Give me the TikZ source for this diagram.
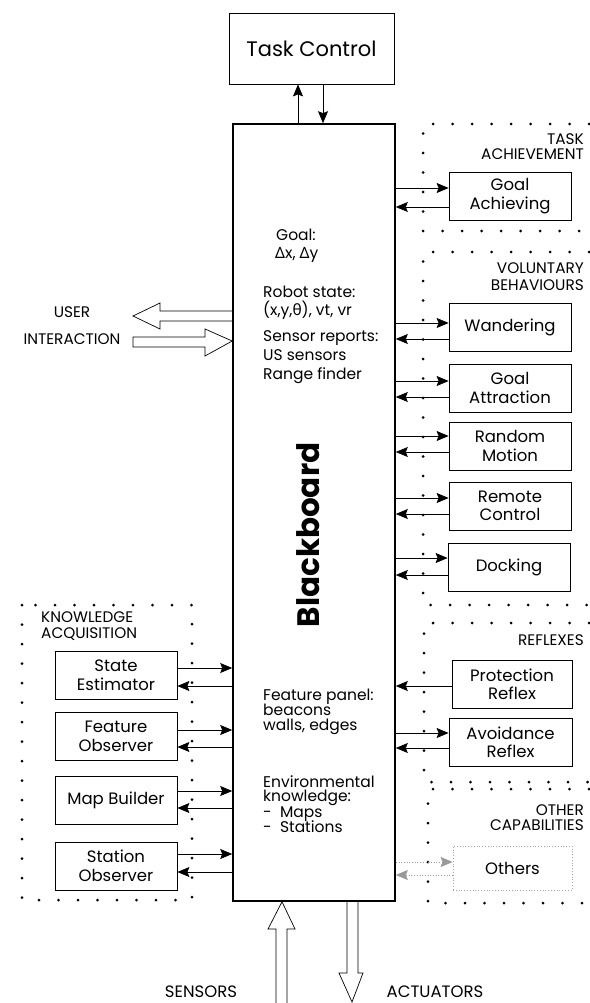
\documentclass[tikz,border=0pt]{standalone}
\usepackage{fontspec}
\setmainfont{Poppins}
\newfontfamily\greekfont{Noto Sans}
\usetikzlibrary{arrows.meta}

% font sizes (1 unit = 1pt)
\newcommand\tcfont{\fontsize{21}{24}\selectfont}
\newcommand\lblfont{\fontsize{16.5}{18.5}\selectfont}
\newcommand\capsfont{\fontsize{15.3}{17}\selectfont}
\newcommand\iofont{\fontsize{16.5}{18}\selectfont}
\newcommand\bbtxtfont{\fontsize{15.5}{17}\selectfont}
\newcommand\bbtitlefont{\fontsize{31}{34}\selectfont\bfseries}

\begin{document}
\begin{tikzpicture}[x=1pt,y=-1pt,
  box/.style={draw, line width=0.8pt, inner sep=0pt, align=center, font=\lblfont,
    minimum width=122pt, minimum height=48pt},
  arr/.style={line width=0.7pt, -{Stealth[length=12pt,width=10pt,inset=2pt]}},
  faintarr/.style={arr, draw=black!40, dotted},
  dots/.style={line width=3pt, line cap=round, dash pattern=on 0pt off 19.5pt},
  caps/.style={font=\capsfont, inner sep=0pt},
  bbtxt/.style={font=\bbtxtfont, inner sep=0pt, anchor=base west},
  hollow/.style={line width=0.7pt, line join=miter}
]
\useasboundingbox (0,0) rectangle (589,1003);

% central blackboard and task control
\node[draw, line width=1.6pt, minimum width=162pt, minimum height=777pt, inner sep=0pt] (bb) at (314,512.5) {};
\node[rotate=90, font=\bbtitlefont, inner sep=0pt] (bbtitle) at (308,535) {Blackboard};
\node[draw, line width=0.8pt, minimum width=165pt, minimum height=71pt, inner sep=0pt, font=\tcfont] (tc) at (311.5,48.5) {Task Control};
\draw[arr] (bb.north -| 298,0) -- (tc.south -| 298,0);
\draw[arr] (tc.south -| 323,0) -- (bb.north -| 323,0);

% contents of the blackboard
\node[bbtxt] (t1) at (276,240) {Goal:};
\node[bbtxt] (t2) at (275,258) {{\greekfont Δ}x,\ {\greekfont Δ}y};
\node[bbtxt] (t3) at (263,297) {Robot state:};
\node[bbtxt] (t4) at (263,315) {(x,y,{\greekfont θ}),\ vt,\ vr};
\node[bbtxt] (t5) at (263,341) {Sensor reports:};
\node[bbtxt] (t6) at (263,360) {US sensors};
\node[bbtxt] (t7) at (263,379) {Range finder};
\node[bbtxt] (t8) at (263,700) {Feature panel:};
\node[bbtxt] (t9) at (263,715) {beacons};
\node[bbtxt] (t10) at (263,730) {walls, edges};
\node[bbtxt] (t11) at (263,787) {Environmental};
\node[bbtxt] (t12) at (263,801) {knowledge:};
\node[bbtxt] (t13) at (263,817) {-\ \ Maps};
\node[bbtxt] (t14) at (263,832) {-\ \ Stations};

% right-hand groups
\draw[dots] (589,124) -- (423,124) -- (423,231) -- (589,231);
\draw[dots] (589,252) -- (423,252) -- (423,605) -- (589,605);
\draw[dots] (589,623) -- (424,623) -- (424,782) -- (589,782);
\draw[dots] (589,789) -- (428,789) -- (428,903) -- (589,903);

\node[caps, anchor=base east] (lta1) at (584,145) {TASK};
\node[caps, anchor=base east] (lta2) at (584,160) {ACHIEVEMENT};
\node[caps, anchor=base east] (lvb1) at (584,273) {VOLUNTARY};
\node[caps, anchor=base east] (lvb2) at (584,290) {BEHAVIOURS};
\node[caps, anchor=base east] (lrf) at (584,645) {REFLEXES};
\node[caps, anchor=base east] (loc1) at (584,815) {OTHER};
\node[caps, anchor=base east] (loc2) at (584,830) {CAPABILITIES};

\node[box] (ga) at (510,196) {Goal\\Achieving};
\node[box] (wa) at (510,327.5) {Wandering};
\node[box] (gat) at (510,388) {Goal\\Attraction};
\node[box] (rm) at (510,446) {Random\\Motion};
\node[box] (rc) at (510,506) {Remote\\Control};
\node[box] (dk) at (509,567.5) {Docking};
\node[box, minimum width=120pt] (pr) at (512,684.5) {Protection\\Reflex};
\node[box, minimum width=123pt] (ar) at (510.5,742.5) {Avoidance\\Reflex};
\node[box, draw=black!35, dotted, minimum width=119pt, minimum height=44pt] (ot) at (512.5,868) {Others};

\draw[arr] (bb.east |- 0,188) -- (ga.west |- 0,188);
\draw[arr] (ga.west |- 0,207) -- (bb.east |- 0,207);
\draw[arr] (bb.east |- 0,323) -- (wa.west |- 0,323);
\draw[arr] (wa.west |- 0,339) -- (bb.east |- 0,339);
\draw[arr] (bb.east |- 0,381) -- (gat.west |- 0,381);
\draw[arr] (gat.west |- 0,397) -- (bb.east |- 0,397);
\draw[arr] (bb.east |- 0,436) -- (rm.west |- 0,436);
\draw[arr] (rm.west |- 0,452) -- (bb.east |- 0,452);
\draw[arr] (bb.east |- 0,498) -- (rc.west |- 0,498);
\draw[arr] (rc.west |- 0,514) -- (bb.east |- 0,514);
\draw[arr] (bb.east |- 0,558) -- (dk.west |- 0,558);
\draw[arr] (dk.west |- 0,575) -- (bb.east |- 0,575);
\draw[arr] (pr.west |- 0,686) -- (bb.east |- 0,686);
\draw[arr] (bb.east |- 0,733) -- (ar.west |- 0,733);
\draw[arr] (ar.west |- 0,748) -- (bb.east |- 0,748);
\draw[faintarr] (bb.east |- 0,862) -- (ot.west |- 0,862);
\draw[faintarr] (ot.west |- 0,875) -- (bb.east |- 0,875);

% knowledge acquisition group
\draw[dots] (22,605) rectangle (192,900);
\node[caps, anchor=base west] (lka1) at (41,622) {KNOWLEDGE};
\node[caps, anchor=base west] (lka2) at (41,638) {ACQUISITION};

\node[box] (se) at (116,675) {State\\Estimator};
\node[box] (fo) at (116,736.5) {Feature\\Observer};
\node[box] (mb) at (116,800.5) {Map Builder};
\node[box] (so) at (116,866) {Station\\Observer};

\draw[arr] (se.east |- 0,668) -- (bb.west |- 0,668);
\draw[arr] (bb.west |- 0,686) -- (se.east |- 0,686);
\draw[arr] (fo.east |- 0,730) -- (bb.west |- 0,730);
\draw[arr] (bb.west |- 0,747) -- (fo.east |- 0,747);
\draw[arr] (mb.east |- 0,791) -- (bb.west |- 0,791);
\draw[arr] (bb.west |- 0,808) -- (mb.east |- 0,808);
\draw[arr] (so.east |- 0,854) -- (bb.west |- 0,854);
\draw[arr] (bb.west |- 0,872) -- (so.east |- 0,872);

% user interaction
\node[caps, anchor=base] (lui1) at (72,317) {USER};
\node[caps, anchor=base] (lui2) at (72,344) {INTERACTION};
\draw[hollow] (bb.west |- 0,311) -- (160,311) -- (160,303) -- (133,316) -- (160,329) -- (160,321) -- (bb.west |- 0,321);
\draw[hollow] (133,337) -- (205,337) -- (205,329) -- (bb.west |- 0,341) -- (205,356) -- (205,347) -- (133,347) -- cycle;

% sensors and actuators
\draw[hollow] (276,1003) -- (276,929) -- (268,929) -- (bb.south -| 282,0) -- (295,929) -- (287,929) -- (287,1003);
\draw[hollow] (bb.south -| 347,0) -- (347,973) -- (339,973) -- (352,1002) -- (363,973) -- (358,973) -- (bb.south -| 358,0);
\node[font=\iofont, inner sep=0pt, anchor=base] (lsen) at (201,997) {SENSORS};
\node[font=\iofont, inner sep=0pt, anchor=base] (lact) at (435,997) {ACTUATORS};
\end{tikzpicture}
\end{document}
